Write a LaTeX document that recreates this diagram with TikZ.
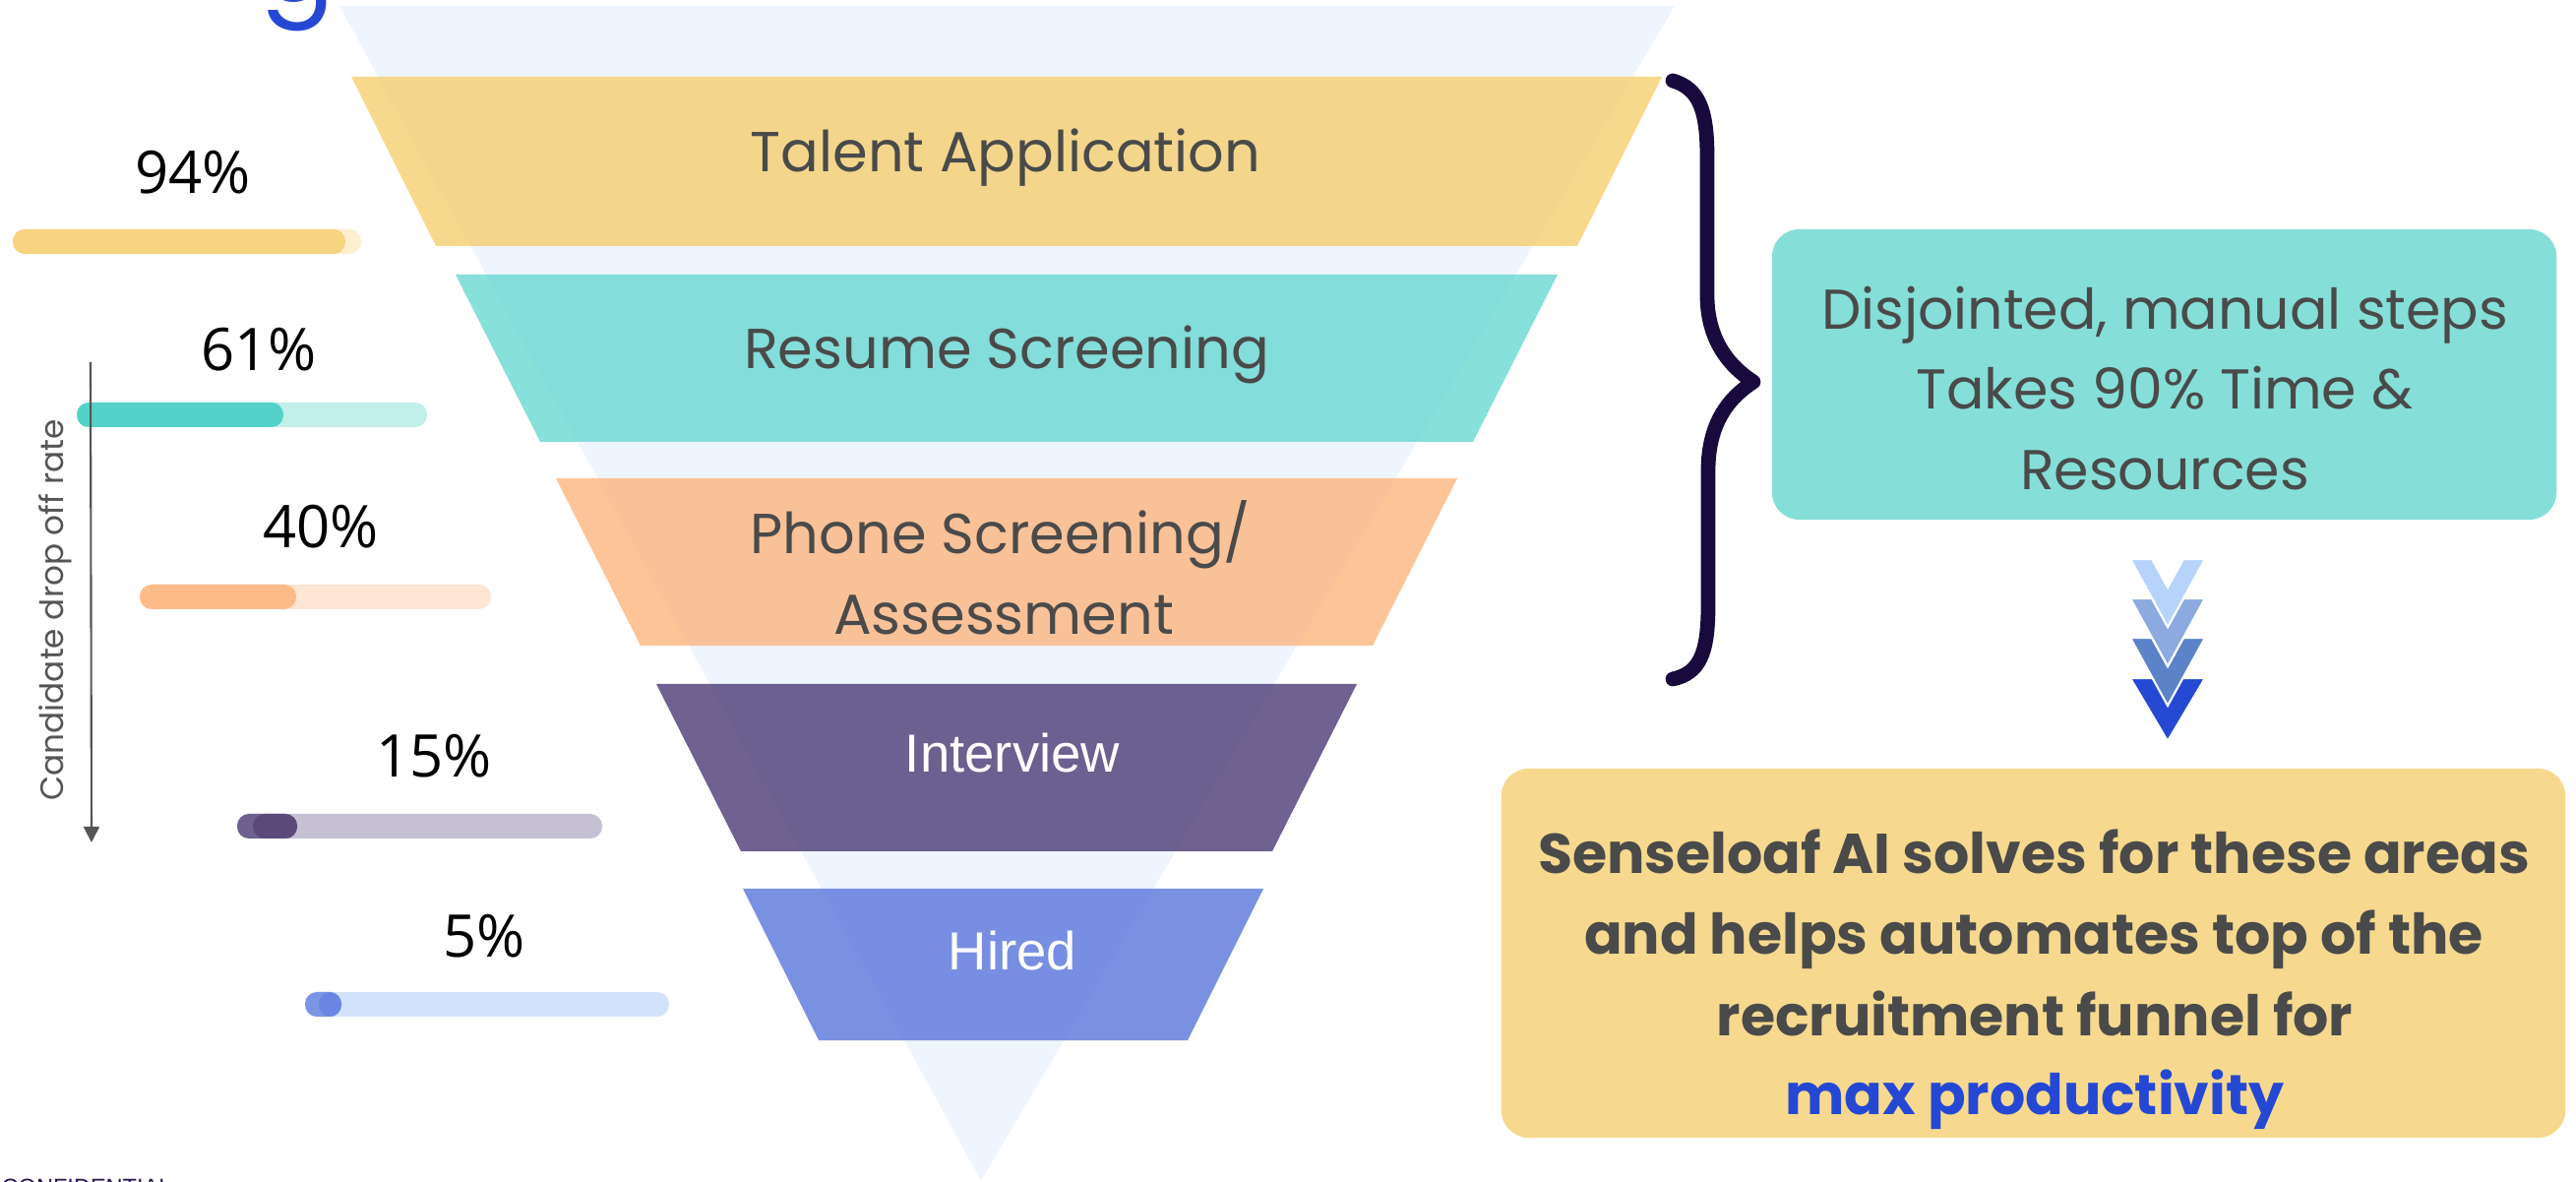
\documentclass[tikz,border=0pt]{standalone}
\usepackage{fontspec}
\setmainfont{Poppins}
\newfontfamily\popfont{Poppins}
\newfontfamily\pctfont{Open Sans}
\newfontfamily\arialfont{Liberation Sans}
\usetikzlibrary{arrows.meta}

\definecolor{funnelbg}{HTML}{EFF5FE}
\definecolor{stYellow}{HTML}{F4CF6F}
\definecolor{stTeal}{HTML}{69D8D1}
\definecolor{stOrange}{HTML}{FCB57E}
\definecolor{stPurple}{HTML}{4B3B74}
\definecolor{stBlue}{HTML}{5975DB}
\definecolor{labelgrey}{HTML}{4A4A4A}
\definecolor{axisgrey}{HTML}{555555}
\definecolor{braceink}{HTML}{180A3C}
\definecolor{boxTeal}{HTML}{85DFD8}
\definecolor{boxYellow}{HTML}{F6D98E}
\definecolor{accentblue}{HTML}{2548D4}
\definecolor{confink}{HTML}{2B1652}
% progress bars: strong part / pale track
\definecolor{barAfg}{HTML}{F7D47F}\definecolor{barAbg}{HTML}{FEEFCF}
\definecolor{barBfg}{HTML}{52D2C9}\definecolor{barBbg}{HTML}{C3EFEB}
\definecolor{barCfg}{HTML}{FDBB8A}\definecolor{barCbg}{HTML}{FFE5D4}
\definecolor{barDfg}{HTML}{6E618F}\definecolor{barDdk}{HTML}{5B497A}\definecolor{barDbg}{HTML}{C5C0D3}
\definecolor{barEfg}{HTML}{7B94E4}\definecolor{barEdk}{HTML}{6A86E2}\definecolor{barEbg}{HTML}{D2E2FA}
% chevrons
\definecolor{chevA}{HTML}{B6D3FB}
\definecolor{chevB}{HTML}{8CAAE0}
\definecolor{chevC}{HTML}{5C82C8}
\definecolor{chevD}{HTML}{2649D4}

\tikzset{
  stagefill/.style={fill=#1, fill opacity=0.8, draw=none},
  stagelabel/.style={font=\popfont\fontsize{16.3}{19}\selectfont, text=labelgrey, anchor=base, inner sep=0pt},
  stagewhite/.style={font=\arialfont\fontsize{15.5}{18}\selectfont, text=white, anchor=base, inner sep=0pt},
  pct/.style={font=\pctfont\fontsize{17}{20}\selectfont, text=black, anchor=base, inner sep=0pt},
  pill/.style={fill=#1, rounded corners=1.2mm},
  infobox/.style={fill=#1, rounded corners=2.8mm, draw=none, inner sep=0pt},
  boxtext/.style={font=\popfont\fontsize{16.2}{19}\selectfont, text=labelgrey, anchor=base, inner sep=0pt},
  boldtext/.style={font=\popfont\bfseries\fontsize{16.2}{19}\selectfont, text=labelgrey, anchor=base, inner sep=0pt},
  chev/.style={fill=#1, draw=white, line width=0.6pt, line join=miter},
}

\begin{document}
\begin{tikzpicture}[x=0.01cm, y=-0.01cm]
\useasboundingbox (0,0) rectangle (2618,1201);

% title fragment cut by the top edge
\node[font=\popfont\fontsize{32}{36}\selectfont, text=accentblue, anchor=base west, inner sep=0pt] (titleg) at (264,2) {g};

% background funnel
\fill[funnelbg] (345,6) -- (1702,6) -- (997,1200) -- cycle;

% funnel stages
\path[stagefill=stYellow] (357,78) -- (1689,78) -- (1603,250) -- (443,250) -- cycle;
\path[stagefill=stTeal]   (463,279) -- (1583,279) -- (1497,449) -- (549,449) -- cycle;
\path[stagefill=stOrange] (565,486) -- (1481,486) -- (1395,656) -- (651,656) -- cycle;
\path[stagefill=stPurple] (667,695) -- (1379,695) -- (1293,865) -- (753,865) -- cycle;
\path[stagefill=stBlue]   (755,903) -- (1284,903) -- (1207,1057) -- (832,1057) -- cycle;

\node[stagelabel] (talent) at (1022,175) {Talent Application};
\node[stagelabel] (resume) at (1023,375) {Resume Screening};
\node[stagelabel] (phone)  at (1017,563) {Phone Screening/};
\node[stagelabel] (assess) at (1020,645) {Assessment};
\node[stagewhite] (interview) at (1029,785) {Interview};
\node[stagewhite] (hired) at (1029,985) {Hired};

% drop-off bars
\fill[pill=barAbg] (13,233) rectangle (367,258);
\fill[pill=barAfg] (13,233) rectangle (351,258);
\fill[pill=barBbg] (78,409) rectangle (434,434);
\fill[pill=barBfg] (78,409) rectangle (288,434);
\fill[pill=barCbg] (142,594) rectangle (499,619);
\fill[pill=barCfg] (142,594) rectangle (301,619);
\fill[pill=barDbg] (241,827) rectangle (612,852);
\fill[pill=barDfg] (241,827) rectangle (302,852);
\fill[pill=barDdk] (257,827) rectangle (302,852);
\fill[pill=barEbg] (310,1008) rectangle (680,1033);
\fill[pill=barEfg] (310,1008) rectangle (347,1033);
\fill[pill=barEdk] (324,1008) rectangle (347,1033);

\node[pct] (p94) at (196,197) {94\%};
\node[pct] (p61) at (263,377) {61\%};
\node[pct] (p40) at (326,557) {40\%};
\node[pct] (p15) at (441,790) {15\%};
\node[pct] (p5)  at (492,972) {5\%};

% drop-off axis
\coordinate (axistop) at (92,368);
\coordinate (axisend) at (93,856);
\draw[axisgrey, line width=0.6pt, -{Triangle[width=4.6pt,length=4.6pt]}] (axistop) -- (axisend);
\node[font=\popfont\fontsize{9.3}{11}\selectfont, text=axisgrey, rotate=90, inner sep=0pt] (axislabel) at (56,620) {Candidate drop off rate};

% curly brace grouping the first three stages
\draw[braceink, line width=4.2pt, line cap=round, line join=round]
  (1700,82) .. controls (1727,90) and (1735,112) .. (1735,160)
  -- (1735,300) .. controls (1735,345) and (1757,372) .. (1782,388)
  .. controls (1757,404) and (1736,430) .. (1736,478)
  -- (1736,615) .. controls (1736,665) and (1727,684) .. (1700,690);

% problem statement box
\node[infobox=boxTeal, minimum width=7.97cm, minimum height=2.95cm] (issues) at (2199.5,380.5) {};
\node[boxtext] (issuesA) at (2200,335) {Disjointed, manual steps};
\node[boxtext] (issuesB) at (2200,416) {Takes 90\% Time \&};
\node[boxtext] (issuesC) at (2200,498) {Resources};

% downward chevrons
\path[chev=chevD] (2165,689) -- (2241,689) -- (2203,753) -- cycle;
\path[chev=chevC] (2165,648) -- (2187,648) -- (2203,677) -- (2219,648) -- (2241,648) -- (2203,717) -- cycle;
\path[chev=chevB] (2165,608) -- (2187,608) -- (2203,637) -- (2219,608) -- (2241,608) -- (2203,677) -- cycle;
\path[chev=chevA] (2165,568) -- (2187,568) -- (2203,597) -- (2219,568) -- (2241,568) -- (2203,637) -- cycle;

% solution box
\node[infobox=boxYellow, minimum width=10.81cm, minimum height=3.75cm] (solution) at (2066.5,968.5) {};
\node[boldtext] (solA) at (2067,888) {Senseloaf AI solves for these areas};
\node[boldtext] (solB) at (2067,970) {and helps automates top of the};
\node[boldtext] (solC) at (2068,1053) {recruitment funnel for};
\node[boldtext, text=accentblue] (solD) at (2068,1133) {max productivity};

% footer cut by the bottom edge
\node[font=\arialfont\fontsize{6.7}{8}\selectfont, text=confink, anchor=north west, inner sep=0pt] (conf) at (1,1197) {CONFIDENTIAL};
\end{tikzpicture}
\end{document}
